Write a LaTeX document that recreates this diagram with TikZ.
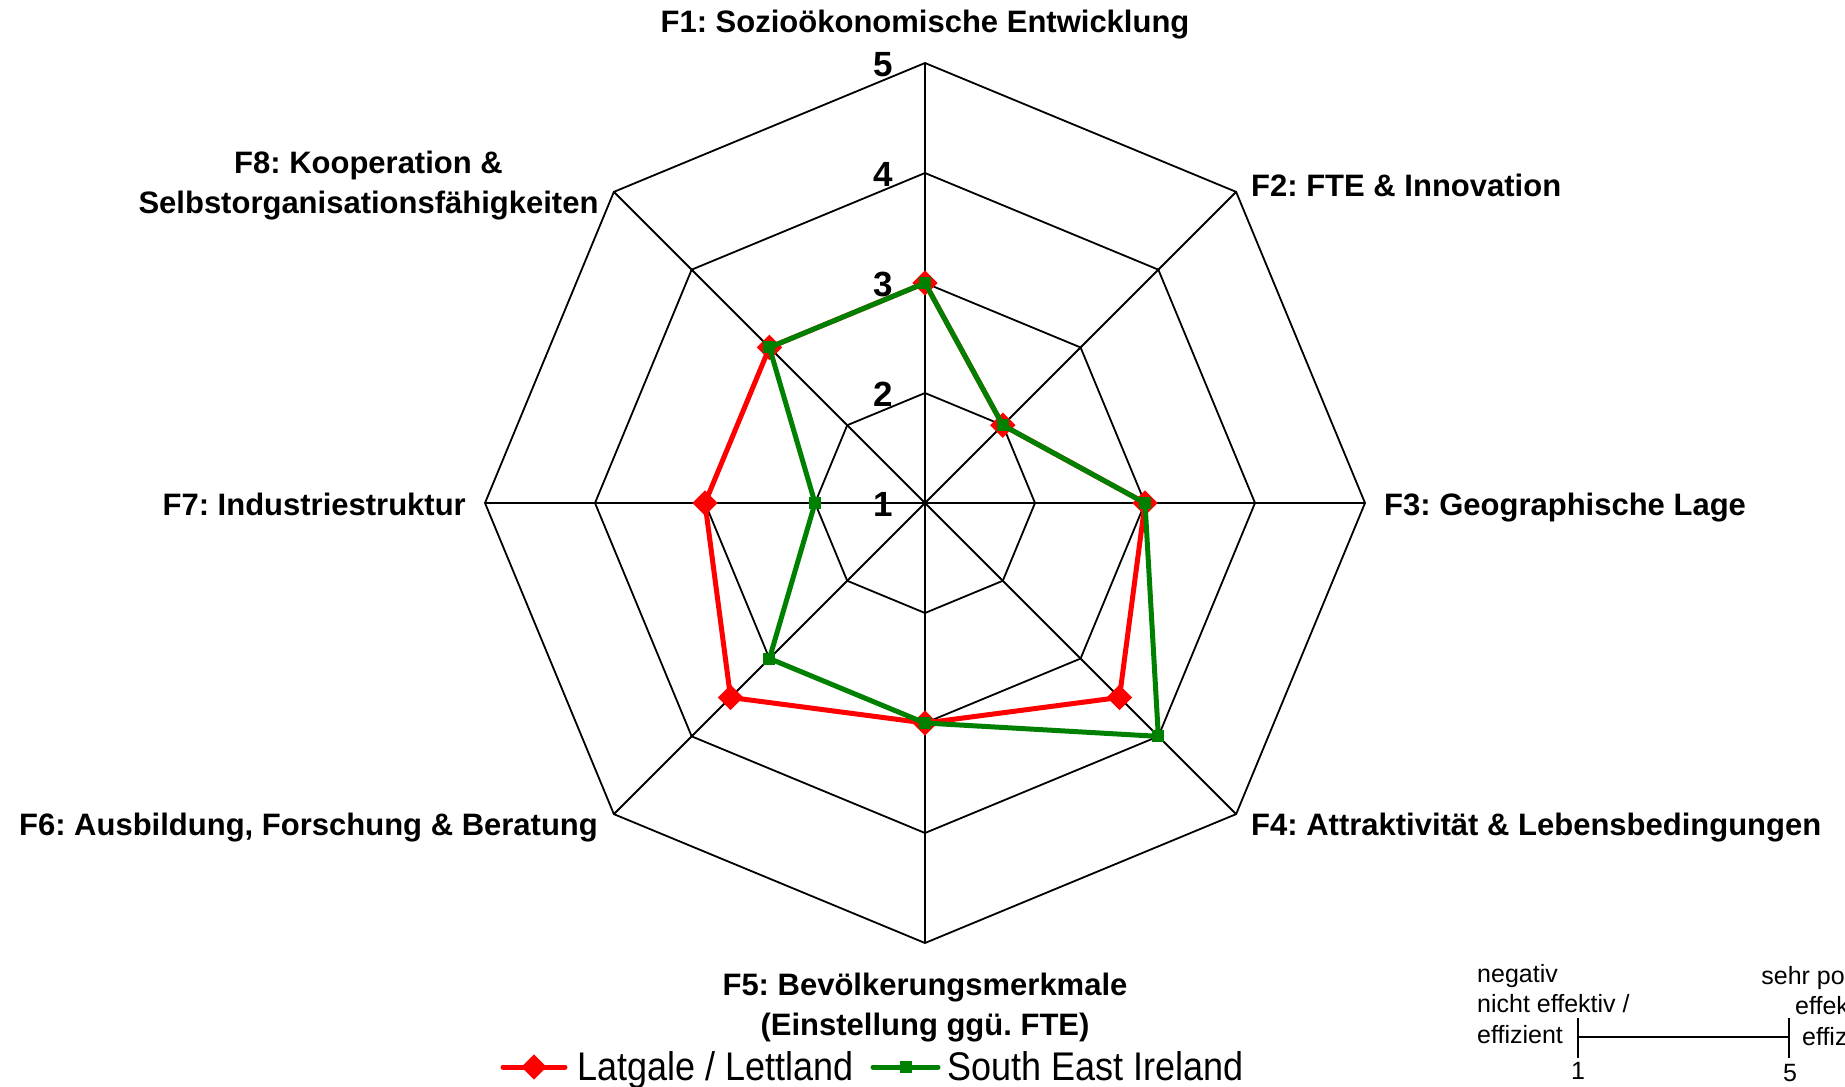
\documentclass[tikz,border=0pt]{standalone}
\usepackage{fontspec}
\setmainfont{Liberation Sans}
\definecolor{exred}{RGB}{255,0,0}
\definecolor{exgreen}{RGB}{0,128,0}
\frenchspacing
\begin{document}
\begin{tikzpicture}[x=1pt,y=-1pt,
  grid/.style={line width=1.8pt, black, line join=miter},
  lab/.style={font=\fontsize{31}{38}\selectfont\bfseries, inner sep=0pt},
  num/.style={font=\fontsize{35}{40}\selectfont\bfseries, inner sep=0pt, anchor=base east},
  small/.style={font=\fontsize{25}{30}\selectfont, inner sep=0pt},
  leg/.style={font=\fontsize{40}{46}\selectfont, inner sep=0pt, anchor=base west},
  redline/.style={draw=exred, line width=5pt, line join=round},
  greenline/.style={draw=exgreen, line width=5pt, line join=round},
  redmark/.style={rectangle, fill=exred, rotate=45, minimum size=18pt, inner sep=0pt},
  greenmark/.style={rectangle, fill=exgreen, minimum size=12pt, inner sep=0pt},
  scaleline/.style={line width=1.6pt, black}
]
\useasboundingbox (0,0) rectangle (1845,1087);
\clip (0,0) rectangle (1845,1087);
\fill[white] (0,0) rectangle (1845,1087);

\begin{scope}[shift={(925,503)}]
  % rings
  \foreach \r in {110,220,330,440}
    \draw[grid] (-90:\r) \foreach \k in {1,...,7}{ -- ({-90+45*\k}:\r)} -- cycle;
  % spokes
  \coordinate (c) at (0,0);
  \foreach \k in {0,...,7}
    \draw[grid] (c) -- ({-90+45*\k}:440);
  % red series: 3,2,3,3.5,3,3.5,3,3
  \coordinate (r1) at (-90:220);
  \coordinate (r2) at (-45:110);
  \coordinate (r3) at (0:220);
  \coordinate (r4) at (45:275);
  \coordinate (r5) at (90:220);
  \coordinate (r6) at (135:275);
  \coordinate (r7) at (180:220);
  \coordinate (r8) at (225:220);
  % green series: 3,2,3,4,3,3,2,3
  \coordinate (g1) at (-90:220);
  \coordinate (g2) at (-45:110);
  \coordinate (g3) at (0:220);
  \coordinate (g4) at (45:330);
  \coordinate (g5) at (90:220);
  \coordinate (g6) at (135:220);
  \coordinate (g7) at (180:110);
  \coordinate (g8) at (225:220);
\end{scope}

\draw[redline] (r1) -- (r2) -- (r3) -- (r4) -- (r5) -- (r6) -- (r7) -- (r8) -- cycle;
\foreach \i in {1,...,8} \node[redmark] (rm\i) at (r\i) {};
\draw[greenline] (g1) -- (g2) -- (g3) -- (g4) -- (g5) -- (g6) -- (g7) -- (g8) -- cycle;
\foreach \i in {1,...,8} \node[greenmark] (gm\i) at (g\i) {};

% scale numbers
\node[num] (n5) at (893,76) {5};
\node[num] (n4) at (893,186) {4};
\node[num] (n3) at (893,296) {3};
\node[num] (n2) at (893,406) {2};
\node[num] (n1) at (893,516) {1};

% axis labels
\node[lab, anchor=base] (f1) at (925,32) {F1: Sozioökonomische Entwicklung};
\node[lab, anchor=base west] (f2) at (1251,196) {F2: FTE \& Innovation};
\node[lab, anchor=base west] (f3) at (1384,515) {F3: Geographische Lage};
\node[lab, anchor=base west] (f4) at (1251,835) {F4: Attraktivität \& Lebensbedingungen};
\node[lab, anchor=base] (f5a) at (925,995) {F5: Bevölkerungsmerkmale};
\node[lab, anchor=base] (f5b) at (925,1035) {(Einstellung ggü. FTE)};
\node[lab, anchor=base east] (f6) at (598,835) {F6: Ausbildung, Forschung \& Beratung};
\node[lab, anchor=base east] (f7) at (466,515) {F7: Industriestruktur};
\node[lab, anchor=base] (f8a) at (368.5,173.5) {F8: Kooperation \&};
\node[lab, anchor=base] (f8b) at (368.5,213.5) {Selbstorganisationsfähigkeiten};

% legend
\coordinate (lr1) at (503,1067);
\coordinate (lr2) at (565,1067);
\draw[redline, line cap=round] (lr1) -- (lr2);
\node[redmark] (lrm) at (534,1067) {};
\node[leg] (lrt) at (577,1080) {\scalebox{0.9}[1]{Latgale / Lettland}};
\coordinate (lg1) at (873,1067);
\coordinate (lg2) at (938,1067);
\draw[greenline, line cap=round] (lg1) -- (lg2);
\node[greenmark] (lgm) at (905.5,1067) {};
\node[leg] (lgt) at (947,1080) {\scalebox{0.9}[1]{South East Ireland}};

% scale explanation (right block runs off the edge, as in the reference)
\node[small, anchor=base west] (neg1) at (1477,982) {negativ};
\node[small, anchor=base west] (neg2) at (1477,1012) {nicht effektiv /};
\node[small, anchor=base west] (neg3) at (1477,1043) {effizient};
\node[small, anchor=base east] (pos1) at (1888,984) {sehr positiv};
\node[small, anchor=base east] (pos2) at (1888,1014) {effektiv /};
\node[small, anchor=base east] (pos3) at (1888,1045) {effizient};
\coordinate (sa) at (1578,1037);
\coordinate (sb) at (1789,1037);
\draw[scaleline] (sa) -- (sb);
\draw[scaleline] ([yshift=19pt]sa) -- ([yshift=-21pt]sa);
\draw[scaleline] ([yshift=19pt]sb) -- ([yshift=-21pt]sb);
\node[small, anchor=base] (s1) at (1578,1079) {1};
\node[small, anchor=base] (s5) at (1790,1081) {5};
\end{tikzpicture}
\end{document}
